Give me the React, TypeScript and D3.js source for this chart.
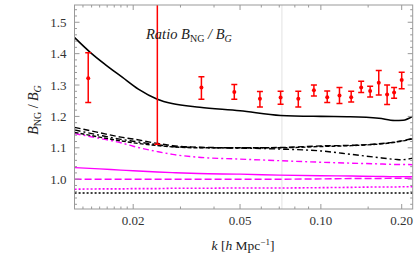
import * as d3 from "d3";

// theory curves, k in h/Mpc
const kSolid = [0.0121, 0.0138, 0.0157, 0.0182, 0.0209, 0.0246, 0.0279, 0.0354, 0.05, 0.0708, 0.1, 0.1285, 0.1645, 0.1885, 0.2025, 0.22];
const solidBlack = [1.451, 1.405, 1.366, 1.325, 1.287, 1.255, 1.241, 1.229, 1.218, 1.203, 1.2, 1.199, 1.194, 1.187, 1.188, 1.201];

const kLines = [0.0121, 0.015, 0.018, 0.02, 0.0246, 0.028, 0.035, 0.05, 0.07, 0.1, 0.13, 0.16, 0.19, 0.2, 0.22];
const blackDashed = [1.165, 1.148, 1.134, 1.128, 1.114, 1.107, 1.102, 1.1, 1.101, 1.106, 1.108, 1.112, 1.119, 1.122, 1.13];
const blackDashDot = [1.157, 1.14, 1.127, 1.121, 1.11, 1.104, 1.101, 1.099, 1.096, 1.09, 1.079, 1.07, 1.063, 1.062, 1.067];
const blackShortDash = [1.149, 1.134, 1.122, 1.116, 1.107, 1.103, 1.1, 1.1, 1.1, 1.104, 1.107, 1.111, 1.118, 1.121, 1.129];
const magentaDashDot = [1.145, 1.13, 1.116, 1.105, 1.088, 1.079, 1.07, 1.064, 1.059, 1.054, 1.051, 1.049, 1.047, 1.047, 1.046];
const magentaSolid = [1.037, 1.033, 1.029, 1.027, 1.023, 1.021, 1.018, 1.016, 1.013, 1.011, 1.01, 1.009, 1.008, 1.008, 1.008];
const magentaDashed = [1.0, 1.0, 1.0, 1.0, 1.0, 1.0, 1.0, 1.0, 1.0, 1.001, 1.002, 1.002, 1.003, 1.003, 1.003];
const magentaDotted = [0.968, 0.969, 0.969, 0.97, 0.97, 0.971, 0.971, 0.972, 0.972, 0.973, 0.974, 0.975, 0.975, 0.976, 0.976];
const blackDotted = [0.956, 0.956, 0.956, 0.956, 0.956, 0.956, 0.956, 0.956, 0.956, 0.956, 0.956, 0.956, 0.956, 0.956, 0.956];

// measured ratio with error bars
const errK = [0.0136, 0.0359, 0.0476, 0.0593, 0.0708, 0.0824, 0.0942, 0.1056, 0.1173, 0.1297, 0.1413, 0.1526, 0.1643, 0.1765, 0.1874, 0.2];
const errVal = [1.322, 1.292, 1.278, 1.256, 1.26, 1.256, 1.283, 1.261, 1.267, 1.261, 1.292, 1.281, 1.307, 1.27, 1.276, 1.316];
const errLo = [1.244, 1.255, 1.255, 1.23, 1.239, 1.23, 1.265, 1.244, 1.241, 1.246, 1.276, 1.262, 1.268, 1.238, 1.258, 1.288];
const errHi = [1.403, 1.326, 1.302, 1.279, 1.28, 1.28, 1.3, 1.281, 1.292, 1.28, 1.312, 1.296, 1.346, 1.3, 1.292, 1.341];

// the big one, its centre is off the top
const bigK = 0.0246;
const bigLo = 1.111;
const bigHi = 1.7;

const kMarker = 0.0716;

const xMajor = [0.02, 0.05, 0.1, 0.2];
const xMajorLabels = ["0.02", "0.05", "0.10", "0.20"];
const xMinor = [0.013, 0.014, 0.015, 0.016, 0.017, 0.018, 0.019, 0.03, 0.04, 0.06, 0.07, 0.08, 0.09, 0.15];
const yMajor = [1.0, 1.1, 1.2, 1.3, 1.4, 1.5];
const yMinor = [0.92, 0.94, 0.96, 0.98, 1.02, 1.04, 1.06, 1.08, 1.12, 1.14, 1.16, 1.18, 1.22, 1.24, 1.26, 1.28, 1.32, 1.34, 1.36, 1.38, 1.42, 1.44, 1.46, 1.48, 1.52, 1.54];

const W = 419;
const H = 259;
const L = 74.5;
const R = 412.7;
const T = 5;
const B = 209;

const MAGENTA = "#ff00ff";
const RED = "#ff0000";
const FRAME = "#999";
const FONT = "'Liberation Serif', 'DejaVu Serif', serif";

export default function App() {
  const x = d3.scaleLog().domain([0.01209, 0.2198]).range([L, R]);
  const y = d3.scaleLinear().domain([0.905, 1.555]).range([B, T]);

  const line = (ks: number[], vs: number[]) =>
    d3.line<number>()
      .x((_, i) => x(ks[i]))
      .y((v) => y(v))
      .curve(d3.curveMonotoneX)(vs) || "";

  const curves = [
    { d: line(kLines, blackDotted), c: "#000", dash: "2,2", w: 1.6 },
    { d: line(kLines, magentaDotted), c: MAGENTA, dash: "2,2", w: 1.6 },
    { d: line(kLines, magentaDashed), c: MAGENTA, dash: "7,3", w: 1.4 },
    { d: line(kLines, magentaSolid), c: MAGENTA, dash: "", w: 1.4 },
    { d: line(kLines, magentaDashDot), c: MAGENTA, dash: "6,3,2,3", w: 1.4 },
    { d: line(kLines, blackShortDash), c: "#000", dash: "4,2", w: 1.4 },
    { d: line(kLines, blackDashDot), c: "#000", dash: "6,3,2,3", w: 1.4 },
    { d: line(kLines, blackDashed), c: "#000", dash: "6,3", w: 1.4 },
    { d: line(kSolid, solidBlack), c: "#000", dash: "", w: 1.6 },
  ];

  return (
    <svg width={W} height={H} style={{ position: "absolute", left: 0, top: 0, background: "#fff" }} fontFamily={FONT}>
      <defs>
        <clipPath id="plotClip">
          <rect x={L} y={T} width={R - L} height={B - T} />
        </clipPath>
      </defs>

      <line x1={x(kMarker)} x2={x(kMarker)} y1={T} y2={B} stroke="#e2e2e2" strokeWidth={1} />

      <g clipPath="url(#plotClip)" fill="none">
        {curves.map((c, i) => (
          <path key={i} d={c.d} stroke={c.c} strokeWidth={c.w} strokeDasharray={c.dash || undefined} />
        ))}
      </g>

      <g clipPath="url(#plotClip)" stroke={RED} strokeWidth={1.5}>
        <line x1={x(bigK)} x2={x(bigK)} y1={y(bigHi)} y2={y(bigLo)} />
        <line x1={x(bigK) - 3} x2={x(bigK) + 3} y1={y(bigLo)} y2={y(bigLo)} />
        {errK.map((k, i) => (
          <g key={i}>
            <line x1={x(k)} x2={x(k)} y1={y(errLo[i])} y2={y(errHi[i])} />
            <line x1={x(k) - 3} x2={x(k) + 3} y1={y(errLo[i])} y2={y(errLo[i])} />
            <line x1={x(k) - 3} x2={x(k) + 3} y1={y(errHi[i])} y2={y(errHi[i])} />
            <circle cx={x(k)} cy={y(errVal[i])} r={2} fill={RED} stroke="none" />
          </g>
        ))}
      </g>

      <rect x={L} y={T} width={R - L} height={B - T} fill="none" stroke={FRAME} strokeWidth={1} />

      <g stroke={FRAME} strokeWidth={1}>
        {xMajor.map((k) => (
          <g key={k}>
            <line x1={x(k)} x2={x(k)} y1={B} y2={B - 5} />
            <line x1={x(k)} x2={x(k)} y1={T} y2={T + 5} />
          </g>
        ))}
        {xMinor.map((k) => (
          <g key={k}>
            <line x1={x(k)} x2={x(k)} y1={B} y2={B - 2.5} />
            <line x1={x(k)} x2={x(k)} y1={T} y2={T + 2.5} />
          </g>
        ))}
        {yMajor.map((v) => (
          <g key={v}>
            <line x1={L} x2={L + 5} y1={y(v)} y2={y(v)} />
            <line x1={R} x2={R - 5} y1={y(v)} y2={y(v)} />
          </g>
        ))}
        {yMinor.map((v) => (
          <g key={v}>
            <line x1={L} x2={L + 2.5} y1={y(v)} y2={y(v)} />
            <line x1={R} x2={R - 2.5} y1={y(v)} y2={y(v)} />
          </g>
        ))}
      </g>

      <g fontSize={13} fill="#333">
        {yMajor.map((v) => (
          <text key={v} x={L - 8} y={y(v)} dy="0.35em" textAnchor="end">{v.toFixed(1)}</text>
        ))}
        {xMajor.map((k, i) => (
          <text key={k} x={x(k)} y={225} textAnchor="middle">{xMajorLabels[i]}</text>
        ))}
      </g>

      <text x={243} y={250} fontSize={13.5} textAnchor="middle" fill="#222">
        <tspan fontStyle="italic">k</tspan>
        <tspan> [</tspan>
        <tspan fontStyle="italic">h</tspan>
        <tspan> Mpc</tspan>
        <tspan fontSize={9} dy={-5}>−1</tspan>
        <tspan dy={5}>]</tspan>
      </text>

      <text transform={`translate(38,110) rotate(-90)`} fontSize={14} textAnchor="middle" fill="#222">
        <tspan fontStyle="italic">B</tspan>
        <tspan fontSize={10} dy={3}>NG</tspan>
        <tspan dy={-3}> / </tspan>
        <tspan fontStyle="italic">B</tspan>
        <tspan fontSize={10} dy={3} fontStyle="italic">G</tspan>
      </text>

      <text x={146} y={39} fontSize={14.5} fill="#222" fontStyle="italic">
        <tspan>Ratio </tspan>
        <tspan>B</tspan>
        <tspan fontSize={10} dy={3} fontStyle="normal">NG</tspan>
        <tspan dy={-3}> / </tspan>
        <tspan>B</tspan>
        <tspan fontSize={10} dy={3}>G</tspan>
      </text>
    </svg>
  );
}
